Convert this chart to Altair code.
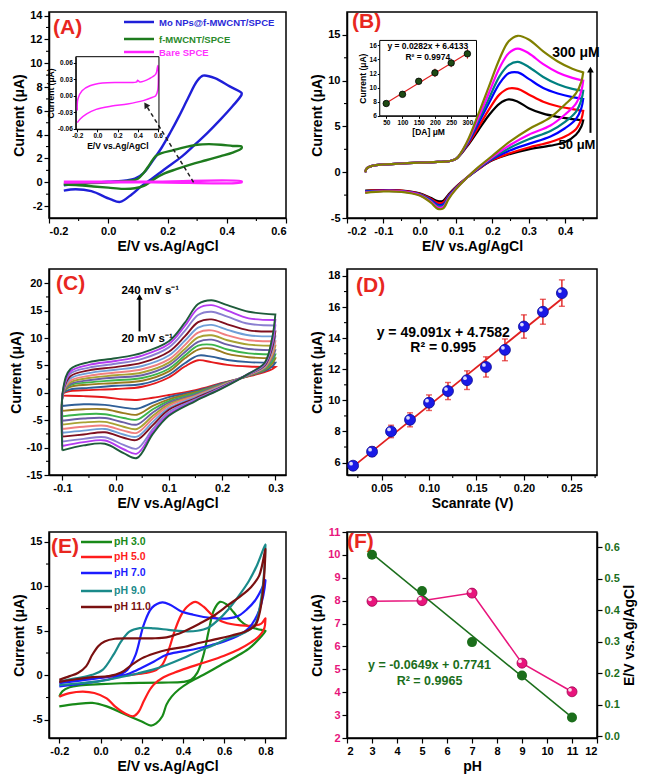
import altair as alt
import pandas as pd

FONT = "Liberation Sans"
W1, W2, H = 237, 250, 206
TAG_RED = "#e8271f"
ONE = pd.DataFrame({"a": [0]})


def fmt(d):
    return "replace(format(datum.value, '.%df'), '\u2212', '-')" % d


# ---------------- data ----------------
# (A)
A_names = ["Mo NPs@f-MWCNT/SPCE", "f-MWCNT/SPCE", "Bare SPCE"]
A_colors = ["#1f1fd8", "#1e7b1e", "#ff22ff"]
A_blue_E = [-0.15, -0.1, 0.0, 0.06, 0.09, 0.12, 0.15, 0.18, 0.21, 0.24, 0.27, 0.30, 0.32, 0.36, 0.41, 0.45,
            0.45, 0.42, 0.38, 0.335, 0.29, 0.25, 0.19, 0.145, 0.113, 0.08, 0.04, 0.007, -0.057, -0.11, -0.15]
A_blue_I = [-0.25, -0.1, 0.05, 0.15, 0.3, 0.8, 1.8, 2.9, 4.2, 5.6, 7.1, 8.5, 8.95, 8.75, 8.05, 7.5,
            7.35, 6.4, 5.3, 4.15, 3.1, 2.2, 1.1, 0.25, -0.3, -1.0, -1.65, -1.42, -0.75, -0.58, -0.7]
A_green_E = [-0.15, 0.0, 0.08, 0.1, 0.12, 0.14, 0.16, 0.18, 0.22, 0.26, 0.30, 0.34, 0.38, 0.42, 0.45,
             0.45, 0.42, 0.38, 0.33, 0.28, 0.23, 0.19, 0.16, 0.14, 0.12, 0.09, 0.05, 0.0, -0.05, -0.1, -0.15]
A_green_I = [-0.15, 0.0, 0.15, 0.3, 0.8, 1.5, 2.2, 2.45, 2.7, 2.95, 3.15, 3.2, 3.15, 3.05, 3.0,
             2.85, 2.5, 2.2, 1.85, 1.5, 1.1, 0.75, 0.35, 0.0, -0.3, -0.5, -0.55, -0.45, -0.35, -0.25, -0.2]
A_pink_E = [-0.15, 0.15, 0.45, 0.45, 0.15, -0.15]
A_pink_I = [0.05, 0.05, 0.08, 0.0, 0.0, -0.02]
A_arrow = {"E": [0.288], "I": [0.0], "E2": [0.127], "I2": [6.5]}
# inset of (A)
IA_E = [-0.2, -0.194, -0.153, -0.075, 0.049, 0.236, 0.39, 0.397, 0.42, 0.516, 0.578, 0.594, 0.6,
        0.598, 0.578, 0.547, 0.454, 0.298, 0.142, -0.013, -0.107, -0.169, -0.2]
IA_I = [-0.027, -0.006, 0.009, 0.018, 0.023, 0.024, 0.025, 0.028, 0.025, 0.031, 0.039, 0.051, 0.055,
        0.01, 0.0, -0.003, -0.009, -0.015, -0.019, -0.025, -0.033, -0.042, -0.049]
IA_xdom = [-0.215, 0.61]
IA_ydom = [-0.061, 0.0708]

# (B)
B_names = ["50", "100", "150", "200", "250", "300"]
B_colors = ["#000000", "#ff0000", "#0000ff", "#008080", "#ff00ff", "#808000"]
B_FX = [-0.15, -0.145, -0.13, -0.1, -0.05, 0.0, 0.05, 0.08, 0.1, 0.13, 0.16, 0.19, 0.22, 0.245, 0.27, 0.3,
        0.34, 0.38, 0.42, 0.45]
B_F_common = [0.0, 0.45, 0.7, 0.85, 0.95, 1.05, 1.12, 1.2, 1.45]
B_F = [
    [2.8, 4.5, 6.2, 7.5, 7.95, 7.7, 7.0, 6.4, 6.05, 5.8, 5.65],
    [2.9, 4.8, 6.8, 8.5, 9.15, 9.1, 8.5, 7.7, 7.2, 6.9, 6.7],
    [3.0, 5.2, 7.5, 9.7, 10.8, 10.9, 10.2, 9.2, 8.6, 8.2, 8.0],
    [3.1, 5.5, 8.0, 10.5, 11.7, 12.05, 11.5, 10.4, 9.6, 9.1, 8.9],
    [3.2, 5.8, 8.6, 11.4, 13.0, 13.5, 13.0, 11.8, 10.9, 10.3, 10.0],
    [3.3, 6.2, 9.3, 12.4, 14.3, 14.9, 14.5, 13.2, 12.1, 11.3, 10.9],
]
B_RX = [0.45, 0.445, 0.43, 0.4, 0.36, 0.3, 0.25, 0.2, 0.16, 0.13, 0.1, 0.08, 0.065, 0.05, 0.03, 0.0, -0.05, -0.1, -0.15]
B_R = [
    [5.65, 5.0, 4.1, 3.3, 2.9, 2.5, 2.0, 1.3, 0.3, -0.6, -1.6, -2.4, -3.1, -3.15, -2.8, -2.3, -2.0, -1.95, -2.0],
    [6.7, 5.8, 4.7, 3.9, 3.3, 2.7, 2.1, 1.35, 0.3, -0.6, -1.65, -2.5, -3.3, -3.35, -2.9, -2.35, -2.0, -1.95, -2.05],
    [8.0, 7.0, 5.8, 4.8, 3.9, 3.1, 2.4, 1.45, 0.35, -0.6, -1.7, -2.6, -3.5, -3.55, -3.0, -2.4, -2.05, -2.0, -2.1],
    [8.9, 7.9, 6.6, 5.5, 4.5, 3.6, 2.7, 1.55, 0.4, -0.6, -1.75, -2.7, -3.65, -3.7, -3.1, -2.45, -2.1, -2.05, -2.15],
    [10.0, 8.9, 7.5, 6.3, 5.1, 4.1, 3.0, 1.65, 0.45, -0.6, -1.8, -2.8, -3.8, -3.85, -3.2, -2.5, -2.1, -2.05, -2.2],
    [10.9, 9.9, 8.6, 7.4, 6.0, 4.7, 3.4, 1.8, 0.5, -0.6, -1.85, -2.9, -3.95, -4.0, -3.3, -2.55, -2.15, -2.1, -2.25],
]
# inset of (B)
IB_conc = [50, 100, 150, 200, 250, 300]
IB_cur = [7.75, 9.05, 10.9, 12.1, 13.5, 14.8]
IB_err = [0.2, 0.35, 0.45, 0.6, 0.6, 0.7]
IB_fit = (0.0282, 6.4133)
IB_xdom = [30, 328]
IB_ydom = [6, 16.7]

# (C)
C_names = [str(v) for v in range(20, 241, 20)]
C_colors = ["#e41a1c", "#2f5f98", "#9a7b1f", "#3cb44b", "#6b5fa5", "#a8a232",
            "#f08080", "#6f9fd8", "#7f0f1f", "#8a7fd0", "#b43cf0", "#1e5b3a"]
C_FX = [-0.1, -0.098, -0.085, -0.05, 0.0, 0.05, 0.1, 0.13, 0.155, 0.18, 0.21, 0.25, 0.3]
C_F = [
    [-0.5, -0.1, 0.3, 0.5, 0.7, 1.1, 2.8, 4.8, 5.95, 5.6, 5.1, 4.8, 4.7],
    [-2.4, 0.0, 0.6, 0.9, 1.3, 1.6, 3.3, 5.4, 6.8, 6.6, 6.0, 5.6, 5.5],
    [-3.3, 0.1, 1.1, 1.5, 1.8, 2.2, 3.9, 6.3, 7.9, 8.1, 7.1, 6.5, 6.3],
    [-4.3, 0.15, 1.4, 1.9, 2.3, 2.7, 4.4, 6.8, 8.6, 8.8, 7.9, 7.2, 7.0],
    [-5.1, 0.2, 1.6, 2.3, 2.8, 3.2, 5.0, 7.4, 9.3, 9.7, 8.8, 8.0, 7.8],
    [-5.8, 0.25, 1.9, 2.7, 3.2, 3.7, 5.5, 8.0, 10.1, 10.5, 9.6, 8.8, 8.6],
    [-6.6, 0.3, 2.2, 3.1, 3.7, 4.3, 6.1, 8.7, 11.0, 11.4, 10.5, 9.6, 9.4],
    [-7.3, 0.35, 2.6, 3.6, 4.2, 4.9, 6.8, 9.5, 11.9, 12.4, 11.5, 10.5, 10.3],
    [-8.0, 0.45, 3.0, 4.1, 4.7, 5.5, 7.5, 10.3, 12.9, 13.4, 12.5, 11.4, 11.2],
    [-8.9, 0.6, 3.5, 4.6, 5.3, 6.2, 8.3, 11.3, 14.2, 14.8, 13.9, 12.6, 12.3],
    [-9.7, 0.8, 3.9, 5.1, 5.8, 6.8, 8.9, 12.2, 15.4, 16.0, 15.0, 13.6, 13.3],
    [-10.5, 1.0, 4.3, 5.6, 6.3, 7.3, 9.4, 12.8, 16.2, 16.9, 16.0, 14.8, 14.3],
]
C_RX = [0.3, 0.294, 0.28, 0.25, 0.2, 0.15, 0.1, 0.07, 0.04, 0.015, -0.02, -0.06, -0.1]
C_R = [
    [4.7, 4.3, 3.8, 3.0, 1.8, 0.5, -0.4, -0.9, -1.3, -1.2, -0.8, -0.6, -0.5],
    [5.5, 4.8, 4.0, 3.1, 1.7, 0.3, -0.8, -1.8, -2.9, -2.7, -2.2, -2.1, -2.4],
    [6.3, 5.3, 4.2, 3.1, 1.6, 0.1, -1.2, -2.4, -4.0, -3.7, -3.0, -3.0, -3.3],
    [7.0, 5.7, 4.3, 3.2, 1.5, -0.1, -1.5, -3.0, -4.9, -4.6, -3.9, -3.9, -4.3],
    [7.8, 6.2, 4.5, 3.2, 1.5, -0.3, -1.8, -3.6, -5.8, -5.4, -4.6, -4.7, -5.1],
    [8.6, 6.7, 4.6, 3.3, 1.4, -0.5, -2.1, -4.2, -6.6, -6.2, -5.3, -5.4, -5.8],
    [9.4, 7.1, 4.7, 3.3, 1.3, -0.6, -2.4, -4.7, -7.3, -6.9, -6.0, -6.2, -6.6],
    [10.3, 7.7, 4.9, 3.4, 1.2, -0.8, -2.8, -5.3, -8.0, -7.6, -6.6, -6.9, -7.3],
    [11.2, 8.2, 5.0, 3.4, 1.1, -1.0, -3.1, -5.9, -8.6, -8.2, -7.2, -7.6, -8.0],
    [12.3, 8.8, 5.2, 3.4, 1.0, -1.2, -3.5, -6.6, -10.2, -9.5, -8.1, -8.4, -8.9],
    [13.3, 9.4, 5.4, 3.5, 0.9, -1.4, -3.9, -7.1, -11.1, -10.3, -8.7, -9.0, -9.7],
    [14.3, 10.0, 5.5, 3.5, 0.8, -1.5, -4.2, -7.5, -11.9, -11.0, -9.3, -9.6, -10.5],
]

# (D)
D_rate = [0.02, 0.04, 0.06, 0.08, 0.10, 0.12, 0.14, 0.16, 0.18, 0.20, 0.22, 0.24]
D_cur = [5.8, 6.7, 8.0, 8.75, 9.85, 10.6, 11.3, 12.15, 13.25, 14.75, 15.7, 16.9]
D_err = [0.25, 0.3, 0.4, 0.45, 0.5, 0.55, 0.6, 0.65, 0.7, 0.75, 0.8, 0.85]
D_fit = (49.091, 4.7582)

# (E)
E_names = ["pH 3.0", "pH 5.0", "pH 7.0", "pH 9.0", "pH 11.0"]
E_colors = ["#188a18", "#ff1c1c", "#1c1cff", "#1a8a8a", "#7a1010"]
E_E = [
    [-0.2, -0.185, -0.15, -0.1, 0.0, 0.1, 0.2, 0.3, 0.4, 0.44, 0.47, 0.5, 0.525, 0.55, 0.58, 0.61, 0.645, 0.68,
     0.71, 0.76, 0.8, 0.8, 0.77, 0.72, 0.65, 0.58, 0.5, 0.43, 0.38, 0.345, 0.32, 0.3, 0.27, 0.245, 0.2, 0.11,
     0.03, -0.04, -0.12, -0.2],
    [-0.2, -0.15, -0.05, 0.05, 0.15, 0.22, 0.27, 0.3, 0.33, 0.36, 0.39, 0.42, 0.46, 0.5, 0.54, 0.6, 0.68, 0.75,
     0.78, 0.8, 0.8, 0.795, 0.77, 0.73, 0.67, 0.6, 0.5, 0.42, 0.36, 0.3, 0.26, 0.24, 0.21, 0.185, 0.16, 0.12,
     0.07, 0.03, -0.03, -0.085, -0.15, -0.2],
    [-0.2, -0.1, 0.0, 0.05, 0.1, 0.13, 0.17, 0.21, 0.25, 0.3, 0.34, 0.39, 0.45, 0.5, 0.56, 0.62, 0.67, 0.71,
     0.75, 0.78, 0.8, 0.8, 0.79, 0.77, 0.75, 0.72, 0.68, 0.6, 0.54, 0.45, 0.39, 0.32, 0.26, 0.2, 0.14, 0.08,
     0.03, -0.05, -0.2],
    [-0.2, -0.12, -0.04, 0.01, 0.06, 0.1, 0.14, 0.19, 0.26, 0.33, 0.4, 0.47, 0.52, 0.57, 0.62, 0.67, 0.72,
     0.76, 0.8, 0.8, 0.795, 0.785, 0.77, 0.75, 0.7, 0.62, 0.55, 0.47, 0.4, 0.32, 0.25, 0.18, 0.1, 0.0, -0.1,
     -0.2],
    [-0.2, -0.15, -0.11, -0.07, -0.04, -0.01, 0.02, 0.07, 0.15, 0.25, 0.32, 0.37, 0.42, 0.48, 0.55, 0.62,
     0.68, 0.73, 0.77, 0.8, 0.8, 0.795, 0.785, 0.77, 0.75, 0.7, 0.64, 0.55, 0.47, 0.41, 0.33, 0.26, 0.2, 0.15,
     0.1, 0.04, -0.04, -0.12, -0.2],
]
E_I = [
    [-2.4, -1.8, -1.35, -1.15, -1.0, -0.9, -0.85, -0.82, -0.75, -0.5, 0.3, 2.3, 5.0, 7.3, 8.25, 8.0, 7.1, 6.1,
     5.6, 5.2, 5.0, 4.95, 4.1, 3.0, 2.0, 1.1, 0.05, -0.8, -1.6, -2.4, -3.3, -4.6, -5.4, -5.65, -5.2, -4.3,
     -3.5, -3.1, -3.25, -3.5],
    [-0.8, -0.55, -0.35, -0.15, 0.05, 0.25, 0.6, 1.2, 2.8, 5.0, 6.7, 7.7, 8.25, 7.7, 6.8, 5.95, 5.6, 5.6,
     5.8, 6.4, 6.3, 5.3, 4.4, 3.7, 2.9, 2.2, 1.4, 0.8, 0.3, -0.3, -1.0, -1.6, -2.9, -4.1, -4.6, -4.3,
     -3.5, -2.6, -2.0, -1.83, -2.0, -2.4],
    [-0.9, -0.6, -0.3, -0.1, 0.15, 0.6, 2.3, 5.7, 7.6, 8.2, 7.9, 7.2, 6.8, 6.55, 6.4, 6.4, 6.7, 7.4,
     8.4, 9.6, 10.7, 10.6, 9.0, 7.3, 6.3, 5.3, 4.6, 3.8, 3.4, 2.9, 2.65, 2.3, 1.55, 0.85, 0.2, -0.2,
     -0.5, -0.8, -1.25],
    [-0.7, -0.35, 0.05, 0.6, 2.2, 3.8, 4.9, 5.3, 5.27, 5.1, 4.95, 5.0, 5.3, 6.2, 7.4, 8.9, 10.6,
     12.4, 14.7, 14.5, 12.0, 9.5, 7.3, 5.7, 4.8, 4.15, 3.4, 2.65, 1.9, 1.15, 0.6, 0.2, -0.2, -0.65, -0.9,
     -1.1],
    [-0.5, -0.1, 0.25, 1.0, 2.3, 3.3, 3.8, 4.1, 4.15, 4.15, 4.25, 4.6, 5.1, 5.8, 6.7, 7.9,
     8.9, 9.9, 11.2, 14.2, 14.0, 11.5, 8.8, 6.8, 5.6, 4.9, 4.5, 4.0, 3.6, 3.2, 2.9, 2.45, 1.9, 1.15,
     0.3, -0.1, -0.2, -0.45, -0.75],
]

# (F)
F_pH = [3, 5, 7, 9, 11]
F_cur = [7.97, 8.0, 8.33, 5.27, 4.02]
F_pot = [0.576, 0.461, 0.299, 0.193, 0.06]
F_fit = (-0.0649, 0.7741)
PINK = "#e8157c"
GREEN = "#1b6e1b"

# minor tick positions (between labelled ticks)
A_minor_x = [-0.1, 0.1, 0.3, 0.5]
A_minor_y = [-1, 1, 3, 5, 7, 9, 11, 13]
B_minor_x = [-0.15, -0.05, 0.05, 0.15, 0.25, 0.35, 0.45]
B_minor_y = [-2.5, 2.5, 7.5, 12.5]
C_minor_x = [-0.05, 0.05, 0.15, 0.25]
C_minor_y = [-12.5, -7.5, -2.5, 2.5, 7.5, 12.5, 17.5]
D_minor_x = [0.025, 0.075, 0.125, 0.175, 0.225, 0.275]
D_minor_y = [7, 9, 11, 13, 15, 17]
E_minor_x = [-0.1, 0.1, 0.3, 0.5, 0.7]
E_minor_y = [-2.5, 2.5, 7.5, 12.5]


# ---------------- helpers ----------------
def cv_frame(names, xs_list, ys_list):
    rows = []
    for n, xs, ys in zip(names, xs_list, ys_list):
        for k, (x, y) in enumerate(zip(xs, ys)):
            rows.append({"s": n, "E": x, "I": y, "k": k})
    return pd.DataFrame(rows)


def T(text, x, y, size=11, color="black", align="left", baseline="middle"):
    return alt.Chart(ONE).mark_text(text=text, fontSize=size, color=color, align=align,
                                    baseline=baseline, fontWeight="bold", font=FONT).encode(x=x, y=y)


def tag(letter, px, py):
    return T(f"({letter})", alt.value(px), alt.value(py), size=21, color=TAG_RED)


def leg_line(x0, x1, y, color, w=2.5):
    return alt.Chart(ONE).mark_rule(color=color, strokeWidth=w).encode(
        x=alt.value(x0), x2=alt.value(x1), y=alt.value(y))


def minor(xf, xvals, yf, yvals):
    mx = alt.Chart(pd.DataFrame({xf: xvals})).mark_rule(color="black", strokeWidth=1.1).encode(
        x=f"{xf}:Q", y=alt.value(H), y2=alt.value(H + 3))
    my = alt.Chart(pd.DataFrame({yf: yvals})).mark_rule(color="black", strokeWidth=1.1).encode(
        y=f"{yf}:Q", x=alt.value(0), x2=alt.value(-3))
    return [mx, my]


def cv_lines(df, names, colors, xenc, yenc, field, width=2.0):
    return alt.Chart(df.rename(columns={"s": field})).mark_line(
        strokeWidth=width, interpolate="catmull-rom").encode(
        x=xenc, y=yenc,
        color=alt.Color(f"{field}:N", scale=alt.Scale(domain=names, range=colors), legend=None),
        order="k:Q", detail=f"{field}:N")


def ax(values, title, d=0, **kw):
    kw["labelExpr"] = fmt(d)
    kw.setdefault("labelOverlap", False)
    kw.setdefault("tickCount", 40)
    return alt.Axis(values=values, title=title, **kw)


def sc(dom, **kw):
    return alt.Scale(domain=dom, nice=False, zero=False, **kw)


INSET_AX = dict(labelFontSize=6.5, titleFontSize=8.5, tickSize=2.5, labelPadding=1, titlePadding=2,
                domainWidth=1, tickWidth=1)

# ---------------- panel A ----------------
xA = alt.X("E:Q", scale=sc([-0.2, 0.6]), axis=ax([-0.2, 0.0, 0.2, 0.4, 0.6], "E/V vs.Ag/AgCl", 1))
yA = alt.Y("I:Q", scale=sc([-3, 14.3]), axis=ax(list(range(-2, 15, 2)), "Current (\u03bcA)"))
dfA = cv_frame(A_names, [A_blue_E, A_green_E, A_pink_E], [A_blue_I, A_green_I, A_pink_I])
A_main = alt.layer(
    cv_lines(dfA, A_names, A_colors, xA, yA, "sa", 2.4),
    *minor("E", A_minor_x, "I", A_minor_y),
    alt.Chart(pd.DataFrame(A_arrow)).mark_rule(strokeDash=[4, 3], strokeWidth=1.5, color="#222").encode(
        x="E:Q", y="I:Q", x2="E2:Q", y2="I2:Q"),
    alt.Chart(pd.DataFrame({"E": A_arrow["E2"], "I": A_arrow["I2"]})).mark_point(
        shape="triangle-up", filled=True, size=45, angle=327, color="#222", opacity=1).encode(x="E:Q", y="I:Q"),
    leg_line(75, 105, 10, A_colors[0]), leg_line(75, 105, 27, A_colors[1]), leg_line(75, 105, 40, A_colors[2]),
    T("Mo NPs@f-MWCNT/SPCE", alt.value(110), alt.value(11), 9.5, "#2a2ad8"),
    T("f-MWCNT/SPCE", alt.value(110), alt.value(28), 9.5, "#2a8a2a"),
    T("Bare SPCE", alt.value(110), alt.value(41), 9.5, "#ff33ff"),
    tag("A", 4, 16),
)
xr_A = [0.113 * W1, 0.464 * W1]
yr_A = [0.569 * H, 0.217 * H]
xIA = alt.X("E:Q", scale=sc(IA_xdom, range=xr_A),
            axis=ax([-0.2, 0.0, 0.2, 0.4, 0.6], "E/V vs.Ag/AgCl", 1, orient="bottom",
                    offset=yr_A[0] - H, **INSET_AX))
yIA = alt.Y("I:Q", scale=sc(IA_ydom, range=yr_A),
            axis=ax([-0.06, -0.03, 0.0, 0.03, 0.06], "Current (\u03bcA)", 2, orient="left",
                    offset=-xr_A[0], **INSET_AX))
dfIA = pd.DataFrame({"E": IA_E, "I": IA_I, "k": range(len(IA_E))})
A_inset = alt.layer(
    alt.Chart(dfIA).mark_line(color="#ff22ff", strokeWidth=1.5, interpolate="catmull-rom").encode(
        x=xIA, y=yIA, order="k:Q"),
    alt.Chart(ONE).mark_rect(fillOpacity=0, stroke="black", strokeWidth=1).encode(
        x=alt.datum(IA_xdom[0]), x2=alt.datum(IA_xdom[1]), y=alt.datum(IA_ydom[0]), y2=alt.datum(IA_ydom[1])),
)
pA = alt.layer(A_main, A_inset).resolve_scale(x="independent", y="independent").properties(width=W1, height=H)

# ---------------- panel B ----------------
xB = alt.X("E:Q", scale=sc([-0.2, 0.488]), axis=ax([-0.2, -0.1, 0.0, 0.1, 0.2, 0.3, 0.4], "E/V vs.Ag/AgCl", 1))
yB = alt.Y("I:Q", scale=sc([-5, 17.5]), axis=ax([-5, 0, 5, 10, 15], "Current (\u03bcA)"))
B_xs = [B_FX + B_RX for _ in B_names]
B_ys = [B_F_common + f + r for f, r in zip(B_F, B_R)]
dfB = cv_frame(B_names, B_xs, B_ys)
B_main = alt.layer(
    cv_lines(dfB, B_names, B_colors, xB, yB, "sb", 2.2),
    *minor("E", B_minor_x, "I", B_minor_y),
    alt.Chart(ONE).mark_rule(strokeWidth=2, color="black").encode(
        x=alt.datum(0.47), y=alt.datum(4.3), y2=alt.datum(11.0)),
    alt.Chart(ONE).mark_point(shape="triangle-up", filled=True, size=45, color="black", opacity=1).encode(
        x=alt.datum(0.47), y=alt.datum(11.2)),
    T("300 \u03bcM", alt.datum(0.43), alt.datum(13.0), 14, align="center"),
    T("50 \u03bcM", alt.datum(0.433), alt.datum(3.0), 13, align="center"),
    tag("B", 5, 10),
)
xr_B = [0.131 * W2, 0.518 * W2]
yr_B = [0.504 * H, 0.138 * H]
xIB = alt.X("c:Q", scale=sc(IB_xdom, range=xr_B),
            axis=ax(IB_conc, "[DA] \u03bcM", orient="bottom", offset=yr_B[0] - H, **INSET_AX))
yIB = alt.Y("v:Q", scale=sc(IB_ydom, range=yr_B),
            axis=ax([6, 8, 10, 12, 14, 16], "Current (\u03bcA)", orient="left", offset=-xr_B[0], **INSET_AX))
dfIB = pd.DataFrame({"c": IB_conc, "v": IB_cur,
                     "lo": [v - e for v, e in zip(IB_cur, IB_err)], "hi": [v + e for v, e in zip(IB_cur, IB_err)]})
dfIBfit = pd.DataFrame({"c": [IB_conc[0], IB_conc[-1]],
                        "v": [IB_fit[0] * IB_conc[0] + IB_fit[1], IB_fit[0] * IB_conc[-1] + IB_fit[1]]})
B_inset = alt.layer(
    alt.Chart(ONE).mark_rect(fill="white", fillOpacity=1, stroke="black", strokeWidth=1).encode(
        x=alt.datum(IB_xdom[0]), x2=alt.datum(IB_xdom[1]), y=alt.datum(IB_ydom[0]), y2=alt.datum(IB_ydom[1])),
    alt.Chart(dfIBfit).mark_line(color="#e02020", strokeWidth=1.2).encode(x=xIB, y=yIB),
    alt.Chart(dfIB).mark_rule(color="#e02020", strokeWidth=1).encode(x=xIB, y=alt.Y("lo:Q"), y2="hi:Q"),
    alt.Chart(dfIB).mark_circle(size=42, color="#1f4a14", opacity=1, stroke="black", strokeWidth=0.8).encode(
        x=xIB, y=yIB),
    T("y = 0.0282x  + 6.4133", alt.datum(178), alt.datum(15.87), 8.5, align="center"),
    T("R\u00b2 = 0.9974", alt.datum(178), alt.datum(14.4), 8.5, align="center"),
)
pB = alt.layer(B_main, B_inset).resolve_scale(x="independent", y="independent").properties(width=W2, height=H)

# ---------------- panel C ----------------
xC = alt.X("E:Q", scale=sc([-0.125, 0.32]), axis=ax([-0.1, 0.0, 0.1, 0.2, 0.3], "E/V vs.Ag/AgCl", 1))
yC = alt.Y("I:Q", scale=sc([-15, 22.6]), axis=ax([-15, -10, -5, 0, 5, 10, 15, 20], "Current (\u03bcA)"))
dfC = cv_frame(C_names, [C_FX + C_RX for _ in C_names], [f + r for f, r in zip(C_F, C_R)])
pC = alt.layer(
    cv_lines(dfC, C_names, C_colors, xC, yC, "sc", 1.9),
    *minor("E", C_minor_x, "I", C_minor_y),
    alt.Chart(ONE).mark_rule(strokeWidth=2, color="black").encode(
        x=alt.datum(0.045), y=alt.datum(11.2), y2=alt.datum(17.3)),
    alt.Chart(ONE).mark_point(shape="triangle-up", filled=True, size=40, color="black", opacity=1).encode(
        x=alt.datum(0.045), y=alt.datum(17.5)),
    T("240 mV s\u207b\u00b9", alt.datum(0.011), alt.datum(18.6), 11.5),
    T("20 mV s\u207b\u00b9", alt.datum(0.011), alt.datum(9.8), 11.5),
    tag("C", 7, 15),
).properties(width=W1, height=H)

# ---------------- panel D ----------------
xD = alt.X("r:Q", scale=sc([0.0136, 0.277]), axis=ax([0.05, 0.10, 0.15, 0.20, 0.25], "Scanrate (V)", 2))
yD = alt.Y("v:Q", scale=sc([5.2, 18.45]), axis=ax([6, 8, 10, 12, 14, 16, 18], "Current (\u03bcA)"))
dfD = pd.DataFrame({"r": D_rate, "v": D_cur,
                    "lo": [v - e for v, e in zip(D_cur, D_err)], "hi": [v + e for v, e in zip(D_cur, D_err)]})
dfDfit = pd.DataFrame({"r": [D_rate[0], D_rate[-1]],
                       "v": [D_fit[0] * D_rate[0] + D_fit[1], D_fit[0] * D_rate[-1] + D_fit[1]]})
pD = alt.layer(
    alt.Chart(dfDfit).mark_line(color="#e02020", strokeWidth=1.8).encode(x=xD, y=yD),
    *minor("r", D_minor_x, "v", D_minor_y),
    alt.Chart(dfD).mark_rule(color="#e02020", strokeWidth=1.4).encode(x=xD, y="lo:Q", y2="hi:Q"),
    alt.Chart(dfD).mark_tick(color="#e02020", orient="horizontal", size=6, thickness=1.4).encode(x=xD, y="lo:Q"),
    alt.Chart(dfD).mark_tick(color="#e02020", orient="horizontal", size=6, thickness=1.4).encode(x=xD, y="hi:Q"),
    alt.Chart(dfD).mark_circle(size=120, color="#1a1ae6", opacity=1, stroke="#0a0a90", strokeWidth=0.8).encode(
        x=xD, y=yD),
    alt.Chart(dfD).mark_circle(size=14, color="white", opacity=0.85, xOffset=-2, yOffset=-2).encode(x=xD, y=yD),
    T("y = 49.091x + 4.7582", alt.datum(0.115), alt.datum(14.33), 14, align="center"),
    T("R\u00b2 = 0.995", alt.datum(0.115), alt.datum(13.37), 14, align="center"),
    tag("D", 9, 17),
).properties(width=W2, height=H)

# ---------------- panel E ----------------
xE = alt.X("E:Q", scale=sc([-0.25, 0.9]), axis=ax([-0.2, 0.0, 0.2, 0.4, 0.6, 0.8], "E/V vs.Ag/AgCl", 1))
yE = alt.Y("I:Q", scale=sc([-7.05, 16.1]), axis=ax([-5, 0, 5, 10, 15], "Current (\u03bcA)"))
dfE = cv_frame(E_names, E_E, E_I)
E_leg_y = [10, 25, 41, 59, 75]
E_layers = [cv_lines(dfE, E_names, E_colors, xE, yE, "se", 2.2), *minor("E", E_minor_x, "I", E_minor_y)]
for nm, c, yy in zip(E_names, E_colors, E_leg_y):
    E_layers.append(leg_line(32, 63, yy, c, 2.5))
    E_layers.append(T(nm, alt.value(65), alt.value(yy), 10.5, c))
E_layers.append(tag("E", 2, 15))
pE = alt.layer(*E_layers).properties(width=W1, height=H)

# ---------------- panel F ----------------
xF = alt.X("pH:Q", scale=sc([2, 12]), axis=ax(list(range(2, 13)), "pH"))
yFL = alt.Y("cur:Q", scale=sc([2, 11]),
            axis=ax(list(range(2, 12)), "Current (\u03bcA)", orient="left", labelColor=PINK))
yFR = alt.Y("pot:Q", scale=sc([-0.005, 0.648]),
            axis=ax([0.0, 0.1, 0.2, 0.3, 0.4, 0.5, 0.6], "E/V vs.Ag/AgCl", 1, orient="right",
                    labelColor=GREEN, titleAngle=270, titleBaseline="top"))
dfF = pd.DataFrame({"pH": F_pH, "cur": F_cur, "pot": F_pot})
dfFfit = pd.DataFrame({"pH": [F_pH[0], F_pH[-1]],
                       "pot": [F_fit[0] * F_pH[0] + F_fit[1], F_fit[0] * F_pH[-1] + F_fit[1]]})
F_left = alt.layer(
    alt.Chart(dfF).mark_line(color=PINK, strokeWidth=1.5).encode(x=xF, y=yFL),
    alt.Chart(dfF).mark_circle(size=100, color=PINK, opacity=1, stroke="#a00050", strokeWidth=0.8).encode(
        x=xF, y=yFL),
    alt.Chart(dfF).mark_circle(size=14, color="white", opacity=0.85, xOffset=-2, yOffset=-2).encode(x=xF, y=yFL),
    T("y = -0.0649x + 0.7741", alt.datum(5.3), alt.datum(5.17), 12.5, GREEN, align="center"),
    T("R\u00b2 = 0.9965", alt.datum(5.3), alt.datum(4.5), 12.5, GREEN, align="center"),
    tag("F", 0, 10),
)
F_right = alt.layer(
    alt.Chart(dfFfit).mark_line(color=GREEN, strokeWidth=1.5).encode(x=xF, y=yFR),
    alt.Chart(dfF).mark_circle(size=100, color=GREEN, opacity=1).encode(x=xF, y=yFR),
)
pF = alt.layer(F_left, F_right).resolve_scale(y="independent").properties(width=W2, height=H)

chart = alt.concat(pA, pB, pC, pD, pE, pF, columns=2, spacing={"row": 14, "column": 22}).resolve_scale(
    color="independent"
).properties(
    padding={"left": 0, "top": 0, "right": 0, "bottom": 0}
).configure(font=FONT).configure_axis(
    labelFont=FONT, labelFontWeight="bold", labelFontSize=11, labelColor="black",
    titleFont=FONT, titleFontWeight="bold", titleFontSize=14, titleColor="black",
    grid=False, tickColor="black", domainColor="black", tickSize=5, tickWidth=1.2, domainWidth=1.5,
    labelPadding=2, titlePadding=3, labelOverlap=False, labelBound=False,
).configure_view(stroke="black", strokeWidth=1.5)

chart.save("out.html", embed_options={"renderer": "svg", "actions": False})
